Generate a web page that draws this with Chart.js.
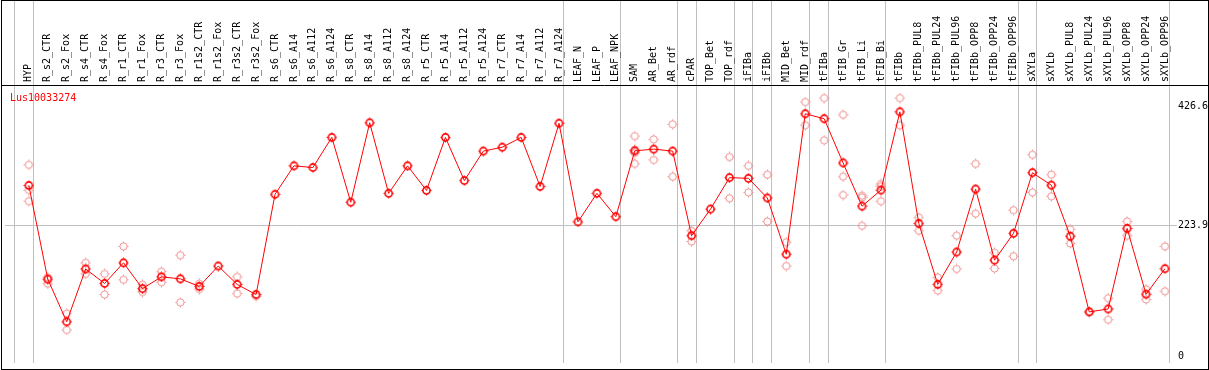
<!DOCTYPE html>
<html>
<head>
<meta charset="utf-8">
<script src="https://cdn.jsdelivr.net/npm/chart.js@4.4.0/dist/chart.umd.min.js"></script>
<style>
  html, body { margin: 0; padding: 0; background: #fff; }
  #wrap { width: 1209px; height: 370px; }
</style>
</head>
<body>
<div id="wrap"><canvas id="exprChart" width="1209" height="370"></canvas></div>
<script>
// Data
const geneName = 'Lus10033274';

const categories = [
  'HYP', 'R_s2_CTR', 'R_s2_Fox', 'R_s4_CTR', 'R_s4_Fox', 'R_r1_CTR', 'R_r1_Fox',
  'R_r3_CTR', 'R_r3_Fox', 'R_r1s2_CTR', 'R_r1s2_Fox', 'R_r3s2_CTR', 'R_r3s2_Fox',
  'R_s6_CTR', 'R_s6_A14', 'R_s6_A112', 'R_s6_A124', 'R_s8_CTR', 'R_s8_A14',
  'R_s8_A112', 'R_s8_A124', 'R_r5_CTR', 'R_r5_A14', 'R_r5_A112', 'R_r5_A124',
  'R_r7_CTR', 'R_r7_A14', 'R_r7_A112', 'R_r7_A124', 'LEAF_N', 'LEAF_P', 'LEAF_NPK',
  'SAM', 'AR_Bet', 'AR_rdf', 'cPAR', 'TOP_Bet', 'TOP_rdf', 'iFIBa', 'iFIBb',
  'MID_Bet', 'MID_rdf', 'tFIBa', 'tFIB_Gr', 'tFIB_Li', 'tFIB_Bi', 'tFIBb',
  'tFIBb_PUL8', 'tFIBb_PUL24', 'tFIBb_PUL96', 'tFIBb_OPP8', 'tFIBb_OPP24', 'tFIBb_OPP96',
  'sXYLa', 'sXYLb', 'sXYLb_PUL8', 'sXYLb_PUL24', 'sXYLb_PUL96', 'sXYLb_OPP8',
  'sXYLb_OPP24', 'sXYLb_OPP96'
];

const meanValues = [
  291.8, 132.2, 59.7, 149.6, 125.0, 160.1, 116.1, 136.2, 132.8, 119.9, 154.6, 123.3, 106.1,
  276.7, 325.2, 322.4, 373.7, 263.3, 398.6, 278.4, 325.2, 283.4, 373.7, 300.1, 350.3,
  357.0, 373.7, 290.1, 397.7, 229.9, 278.4, 238.7,
  350.8, 353.7, 350.3, 206.4, 251.6, 305.1, 304.0, 270.5,
  174.7, 413.9, 405.5, 330.2, 256.6, 283.9, 417.2,
  227.0, 123.3, 178.5, 285.6, 164.6, 210.3,
  313.5, 292.3, 205.3, 76.6, 81.5, 218.7, 106.6, 150.1
];

const replicateValues = [
  [326.9, 283.9, 265.0], [135.5, 124.5], [73.6, 45.8], [160.1, 141.2], [141.2, 106.1],
  [188.0, 131.2], [122.8, 110.4], [145.0, 127.1], [173.0, 92.7], [124.5, 115.4],
  [], [136.2, 107.7], [103.2],
  [], [], [], [], [], [], [], [], [], [], [], [], [], [], [], [], [], [], [],
  [375.9, 352.4, 347.4, 328.6], [370.4, 335.3], [396.0, 306.8], [214.8, 196.4], [],
  [340.3, 270.0], [325.2, 280.0], [310.2, 230.4],
  [195.2, 154.6], [433.9, 394.3], [440.6, 368.7], [412.2, 306.8, 275.5],
  [274.4, 271.5, 223.2], [294.4, 290.5, 265.0], [440.6, 394.3],
  [237.1, 214.8], [135.0, 112.8], [206.4, 149.6], [328.6, 243.8], [177.3, 150.6], [249.9, 171.3],
  [344.1, 280.0], [310.2, 273.4], [217.0, 193.1], [76.0], [99.9, 63.2], [230.4, 206.4],
  [115.0, 97.7], [188.0, 111.6]
];

const yTickValues = [0, 223.9, 426.6];

// category index after which a group separator is drawn
const groupEnds = [-1, 0, 28, 31, 34, 35, 37, 38, 39, 41, 42, 45, 52, 53, 60];

const separators = groupEnds.map(i => i + 0.24);

// small circle with four tick marks, like the original plot symbol
function makeMarker(color, width) {
  const c = document.createElement('canvas');
  c.width = 11;
  c.height = 11;
  const g = c.getContext('2d');
  g.strokeStyle = color;
  g.lineWidth = width;
  g.beginPath();
  g.arc(5.5, 5.5, 3.6, 0, Math.PI * 2);
  g.stroke();
  g.lineWidth = 1;
  g.beginPath();
  g.moveTo(5.5, 0.5); g.lineTo(5.5, 2);
  g.moveTo(5.5, 9); g.lineTo(5.5, 10.5);
  g.moveTo(0.5, 5.5); g.lineTo(2, 5.5);
  g.moveTo(9, 5.5); g.lineTo(10.5, 5.5);
  g.stroke();
  return c;
}

const meanMarker = makeMarker('#ff0000', 1.6);
const repMarker = makeMarker('#f09090', 1);

// frame, header rule and gene name
const framePlugin = {
  id: 'frame',
  afterDraw(chart) {
    const { ctx, chartArea, width, height } = chart;
    ctx.save();
    ctx.strokeStyle = '#000';
    ctx.lineWidth = 1;
    ctx.strokeRect(1.5, 0.5, width - 2, height - 1);
    ctx.beginPath();
    ctx.moveTo(1, chartArea.top - 0.5);
    ctx.lineTo(width - 1, chartArea.top - 0.5);
    ctx.stroke();
    ctx.fillStyle = '#ff0000';
    ctx.font = '10px "DejaVu Sans Mono"';
    ctx.textBaseline = 'alphabetic';
    ctx.fillText(chart.data.datasets[0].label, 10, chartArea.top + 15);
    ctx.restore();
  }
};

Chart.defaults.font.family = '"DejaVu Sans Mono", monospace';
Chart.defaults.font.size = 10;
Chart.defaults.color = '#000';

const config = {
  type: 'line',
  data: {
    datasets: [
      {
        label: geneName,
        data: meanValues.map((v, i) => ({ x: i, y: v })),
        borderColor: '#ff0000',
        borderWidth: 1,
        pointStyle: meanMarker,
        tension: 0,
        order: 0,
      },
      {
        label: 'replicates',
        type: 'scatter',
        data: replicateValues.flatMap((vals, i) => vals.map(v => ({ x: i, y: v }))),
        pointStyle: repMarker,
        showLine: false,
        order: 1,
      },
    ],
  },
  options: {
    responsive: false,
    animation: false,
    devicePixelRatio: 1,
    layout: {
      padding: { top: 8, left: 2, right: 0, bottom: 2 },
    },
    plugins: {
      legend: { display: false },
      tooltip: { enabled: false },
    },
    scales: {
      x: {
        type: 'linear',
        position: 'top',
        min: -1.26,
        max: 60.26,
        afterBuildTicks: axis => {
          const vals = categories.map((_, i) => i).concat(separators).sort((a, b) => a - b);
          axis.ticks = vals.map(v => ({ value: v }));
        },
        afterFit: axis => {
          axis.paddingLeft = 0;
          axis.paddingRight = 0;
        },
        ticks: {
          autoSkip: false,
          minRotation: 90,
          maxRotation: 90,
          mirror: true,
          padding: -4,
          color: '#000',
          callback: v => (Number.isInteger(v) ? categories[v] : ''),
        },
        grid: {
          tickLength: 86,
          color: c => (c.tick && separators.includes(c.tick.value) ? '#c0c0c0' : 'rgba(0,0,0,0)'),
        },
        border: { display: false },
      },
      y: {
        type: 'linear',
        position: 'right',
        min: -10.5,
        max: 461.2,
        afterBuildTicks: axis => {
          axis.ticks = yTickValues.map(v => ({ value: v }));
        },
        ticks: {
          padding: 1,
          color: '#000',
          callback: v => (v === 0 ? '0' : v.toFixed(1)),
        },
        grid: {
          tickLength: 7,
          color: c => (c.tick && c.tick.value === yTickValues[1] ? '#c0c0c0' : 'rgba(0,0,0,0)'),
        },
        border: { display: false },
      },
    },
  },
  plugins: [framePlugin],
};

const ctx = document.getElementById('exprChart').getContext('2d');
new Chart(ctx, config);
</script>
</body>
</html>
